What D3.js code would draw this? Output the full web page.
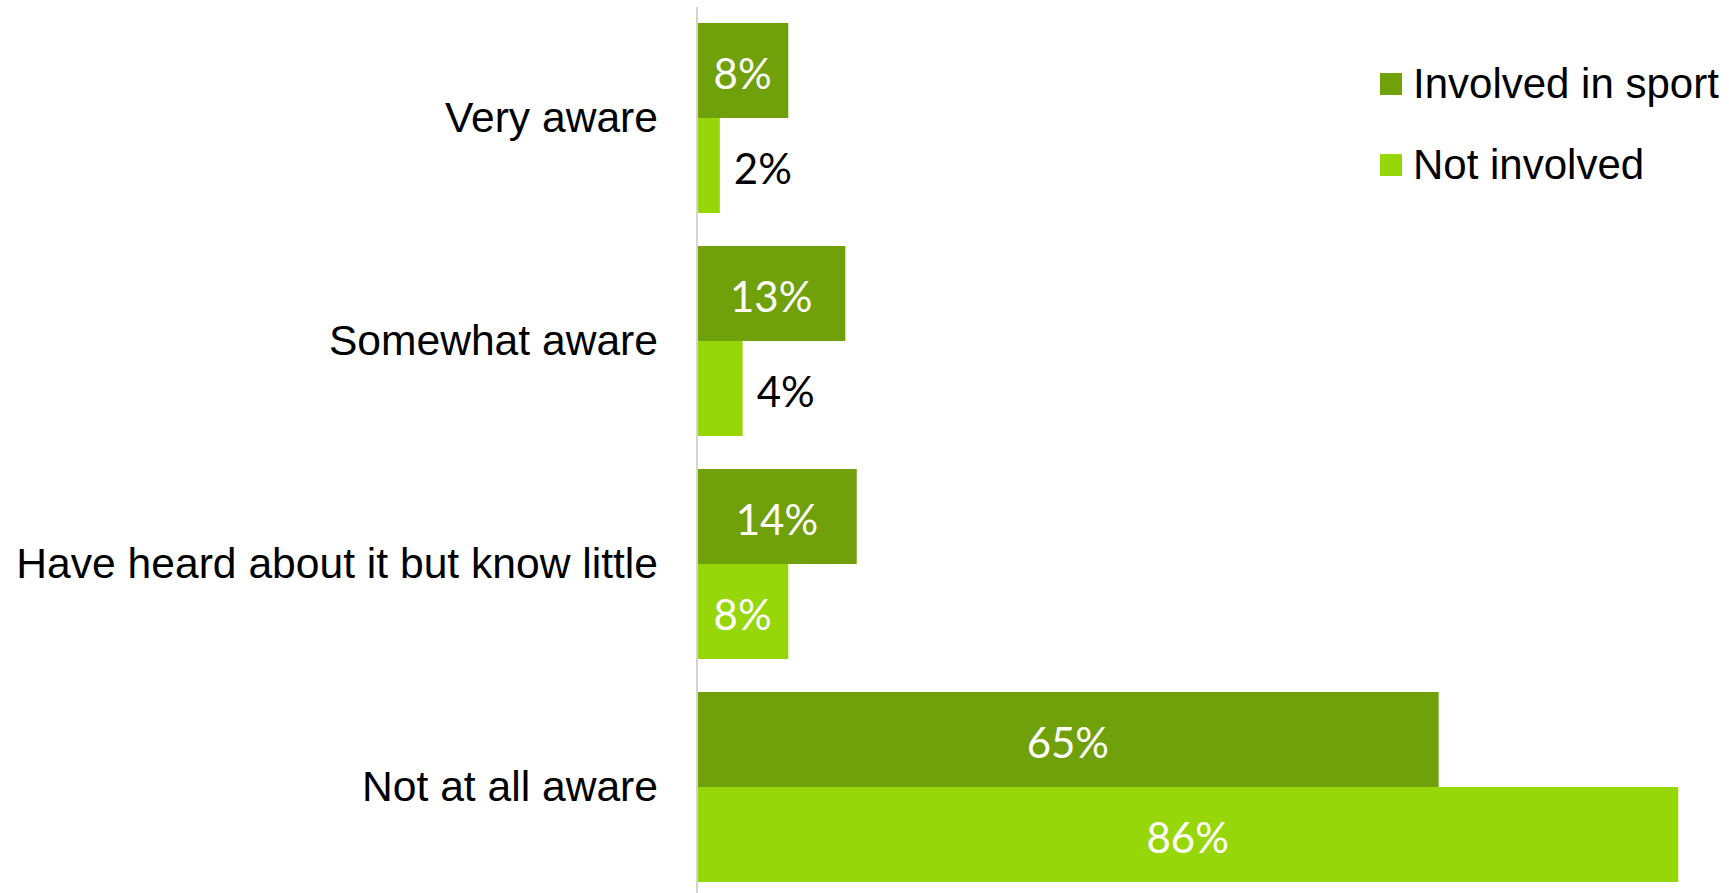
<!DOCTYPE html>
<html>
<head>
<meta charset="utf-8">
<script src="https://cdn.jsdelivr.net/npm/d3@7"></script>
<style>
  html, body { margin: 0; padding: 0; background: #fff; overflow: hidden; }
  svg { display: block; }
</style>
</head>
<body>
<svg id="chart" width="1729" height="893"></svg>
<script>
// Awareness level by sport involvement (share of respondents)
const categories = ["Very aware", "Somewhat aware", "Have heard about it but know little", "Not at all aware"];
const seriesNames = ["Involved in sport", "Not involved"];
const involvedValues = [0.08, 0.13, 0.14, 0.65];
const notInvolvedValues = [0.02, 0.04, 0.08, 0.86];
const seriesColors = ["#70A00A", "#97D70A"];

const W = 1729, H = 893;
const svg = d3.select("#chart");

const x0 = 697;
const x = d3.scaleLinear().domain([0, 1]).range([x0, x0 + 1141]);

const y = d3.scaleBand()
  .domain(categories)
  .range([6.5, 898.5])
  .paddingInner(33 / 223)
  .paddingOuter(33 / 223 / 2);

const ySub = d3.scaleBand()
  .domain(seriesNames)
  .range([0, y.bandwidth()]);

const rows = categories.map((c, i) => ({
  category: c,
  values: [
    { series: seriesNames[0], value: involvedValues[i] },
    { series: seriesNames[1], value: notInvolvedValues[i] }
  ]
}));

const color = d3.scaleOrdinal().domain(seriesNames).range(seriesColors);
const fmt = d3.format(".0%");

// bars
const groups = svg.append("g").selectAll("g")
  .data(rows)
  .join("g")
  .attr("transform", d => `translate(0,${y(d.category)})`);

groups.selectAll("rect")
  .data(d => d.values)
  .join("rect")
  .attr("x", x(0))
  .attr("y", d => ySub(d.series))
  .attr("width", d => x(d.value) - x(0))
  .attr("height", ySub.bandwidth())
  .attr("fill", d => color(d.series));

// value labels: inside (white) when the bar is wide enough, otherwise outside (black)
const labelFont = "Lato, 'Open Sans', sans-serif";
groups.selectAll("text.value")
  .data(d => d.values)
  .join("text")
  .attr("class", "value")
  .attr("font-family", labelFont)
  .attr("font-size", 42)
  .attr("dominant-baseline", "central")
  .attr("y", d => ySub(d.series) + ySub.bandwidth() / 2 + 2)
  .each(function (d) {
    const w = x(d.value) - x(0);
    const t = d3.select(this).text(fmt(d.value));
    if (w > 80) {
      t.attr("x", x(0) + w / 2).attr("text-anchor", "middle").attr("fill", "#ffffff");
    } else {
      t.attr("x", x(d.value) + 14).attr("text-anchor", "start").attr("fill", "#000000");
    }
  });

// category axis
const axis = d3.axisLeft(y).tickSize(0).tickPadding(39);
const gAxis = svg.append("g")
  .attr("transform", `translate(${x0},0)`)
  .call(axis);
gAxis.select(".domain").remove();
gAxis.attr("font-family", "'Liberation Sans', Arial, sans-serif");
gAxis.selectAll("text")
  .attr("font-family", "'Liberation Sans', Arial, sans-serif")
  .attr("font-size", 42.6)
  .attr("fill", "#000");

svg.append("line")
  .attr("x1", x0).attr("x2", x0)
  .attr("y1", 7).attr("y2", H)
  .attr("stroke", "#d4d4d4")
  .attr("stroke-width", 2);

// legend
const legend = svg.append("g").attr("transform", "translate(1380,73)");
const items = legend.selectAll("g")
  .data(seriesNames)
  .join("g")
  .attr("transform", (d, i) => `translate(0,${i * 81})`);
items.append("rect")
  .attr("width", 22).attr("height", 22)
  .attr("fill", d => color(d));
items.append("text")
  .attr("x", 33)
  .attr("y", 25)
  .attr("font-family", "'Liberation Sans', Arial, sans-serif")
  .attr("font-size", 42)
  .attr("fill", "#000")
  .text(d => d);
</script>
</body>
</html>
